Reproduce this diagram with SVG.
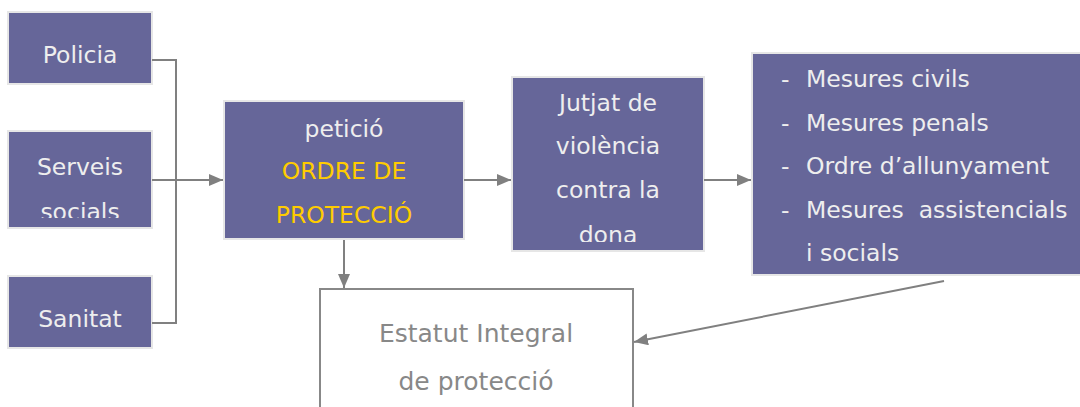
<svg xmlns="http://www.w3.org/2000/svg" width="1080" height="407" viewBox="0 0 1080 407">
<style>
.box{fill:#666699;stroke:#e6e6e6;stroke-width:2}
.t{font-family:"DejaVu Sans",sans-serif;font-size:23.5px;fill:#eeeeee;text-anchor:middle}
.y{fill:#ffcc00}
.l{text-anchor:start}
.g{fill:#888888;font-size:25px}
.c{fill:none;stroke:#808080;stroke-width:2}
</style>
<defs>
<marker id="ah" viewBox="0 0 14 12" refX="14" refY="6" markerWidth="14" markerHeight="12" markerUnits="userSpaceOnUse" orient="auto"><path d="M0,0 L14,6 L0,12 z" fill="#808080"/></marker>
<clipPath id="cs"><rect x="8" y="131" width="144" height="87"/></clipPath>
<clipPath id="cj"><rect x="512" y="77" width="192" height="165"/></clipPath>
</defs>
<g id="policia"><rect class="box" x="8" y="12" width="144" height="72"/><text class="t" x="80" y="63">Policia</text></g>
<g id="serveis"><rect class="box" x="8" y="131" width="144" height="97"/><g clip-path="url(#cs)"><text class="t" x="80" y="175">Serveis</text><text class="t" x="80" y="220">socials</text></g></g>
<g id="sanitat"><rect class="box" x="8" y="276" width="144" height="72"/><text class="t" x="80" y="327">Sanitat</text></g>
<g id="peticio"><rect class="box" x="224" y="101" width="240" height="138"/><text class="t" x="344" y="137">petició</text><text class="t y" x="344" y="179">ORDRE DE</text><text class="t y" x="344" y="223">PROTECCIÓ</text></g>
<g id="jutjat"><rect class="box" x="512" y="77" width="192" height="174"/><g clip-path="url(#cj)"><text class="t" x="608" y="111">Jutjat de</text><text class="t" x="608" y="154">violència</text><text class="t" x="608" y="198">contra la</text><text class="t" x="608" y="243">dona</text></g></g>
<g id="mesures"><rect class="box" x="752" y="53" width="336" height="222"/>
<text class="t l" x="781" y="87">-</text><text class="t l" x="806" y="87">Mesures civils</text>
<text class="t l" x="781" y="131">-</text><text class="t l" x="806" y="131">Mesures penals</text>
<text class="t l" x="781" y="174">-</text><text class="t l" x="806" y="174">Ordre d’allunyament</text>
<text class="t l" x="781" y="218">-</text><text class="t l" x="806" y="218" xml:space="preserve">Mesures  assistencials</text>
<text class="t l" x="806" y="261">i socials</text></g>
<g id="estatut"><path d="M320,410 V289 H633 V410" fill="#ffffff" stroke="#888888" stroke-width="2"/><text class="t g" x="476" y="342">Estatut Integral</text><text class="t g" x="476" y="390">de protecció</text></g>
<g id="connectors">
<path class="c" d="M152,60 H176 V323 H152"/>
<path class="c" d="M152,180 H223" marker-end="url(#ah)"/>
<path class="c" d="M464,180 H511" marker-end="url(#ah)"/>
<path class="c" d="M704,180 H751" marker-end="url(#ah)"/>
<path class="c" d="M344,240 V288" marker-end="url(#ah)"/>
<path class="c" d="M944,281 L634,342" marker-end="url(#ah)"/>
</g>
</svg>
